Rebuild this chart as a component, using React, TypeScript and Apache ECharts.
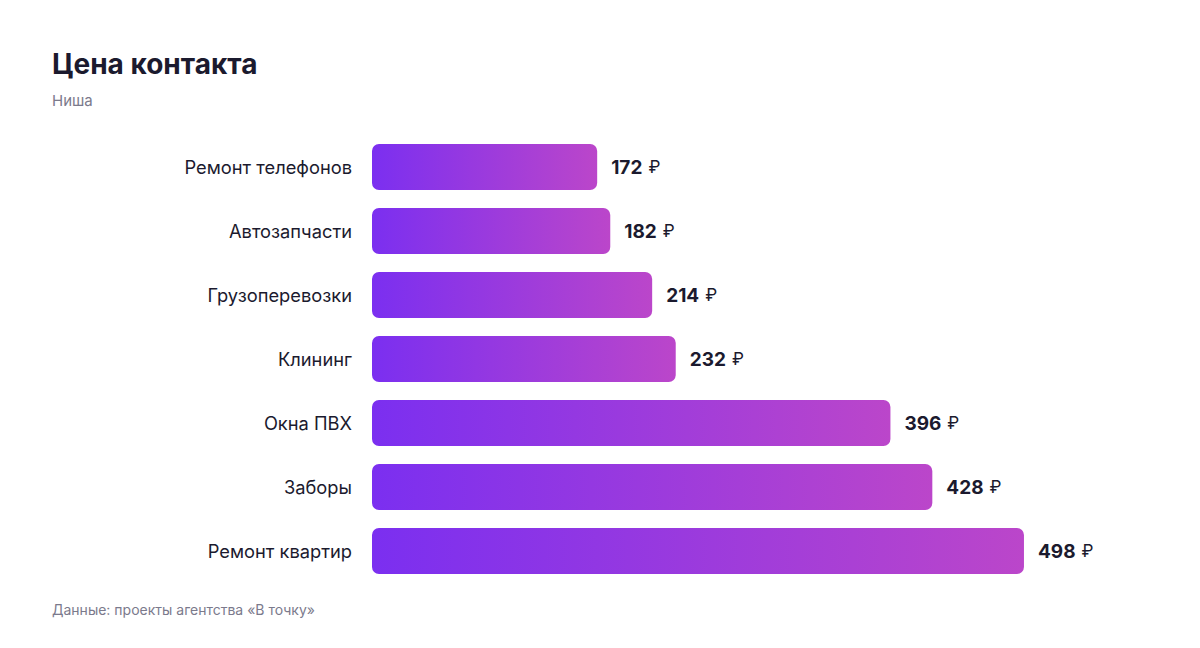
import { useEffect, useRef } from "react";
import * as echarts from "echarts";

const niches = [
  "Ремонт телефонов",
  "Автозапчасти",
  "Грузоперевозки",
  "Клининг",
  "Окна ПВХ",
  "Заборы",
  "Ремонт квартир",
];
const prices = [172, 182, 214, 232, 396, 428, 498];

const FONT = "Inter, 'Liberation Sans', Arial, sans-serif";

export default function App() {
  const chartRef = useRef<HTMLDivElement>(null);

  useEffect(() => {
    if (!chartRef.current) return;
    const chart = echarts.init(chartRef.current, null, { renderer: "svg" });

    const option: echarts.EChartsOption = {
      animation: false,
      backgroundColor: "#ffffff",
      textStyle: { fontFamily: FONT },
      title: {
        text: "Цена контакта",
        subtext: "Ниша",
        left: 52,
        top: 50,
        padding: 0,
        itemGap: 15,
        textStyle: { fontSize: 28, fontWeight: "bold", color: "#1b1a2e", fontFamily: FONT },
        subtextStyle: { fontSize: 15, color: "#7b7a8c", fontFamily: FONT },
      },
      graphic: [
        {
          type: "text",
          left: 52,
          top: 602,
          style: {
            text: "Данные: проекты агентства «В точку»",
            fontSize: 14,
            fill: "#7b7a8c",
            fontFamily: FONT,
          },
        },
      ],
      grid: { left: 372, top: 135, width: 785.5, height: 448 },
      xAxis: {
        type: "value",
        min: 0,
        max: 600,
        show: false,
      },
      yAxis: {
        type: "category",
        data: niches,
        inverse: true,
        axisLine: { show: false },
        axisTick: { show: false },
        splitLine: { show: false },
        axisLabel: { margin: 20, fontSize: 18.3, color: "#1b1a2e", fontFamily: FONT },
      },
      series: [
        {
          type: "bar",
          data: prices,
          barWidth: 46,
          itemStyle: {
            borderRadius: 7,
            color: new echarts.graphic.LinearGradient(0, 0, 1, 0, [
              { offset: 0, color: "#7b2ff0" },
              { offset: 1, color: "#bb46ca" },
            ]),
          },
          label: {
            show: true,
            position: "right",
            distance: 14,
            formatter: (p: any) => `{v|${p.value}}{r|₽}`,
            rich: {
              v: { fontSize: 19, fontWeight: "bold", color: "#1b1a2e", fontFamily: FONT },
              r: { fontSize: 17, color: "#1b1a2e", fontFamily: FONT, padding: [0, 0, 0, 6] },
            },
          },
        },
      ],
    };

    chart.setOption(option);
    return () => chart.dispose();
  }, []);

  return (
    <div
      ref={chartRef}
      style={{ position: "fixed", left: 0, top: 0, width: "1200px", height: "648px" }}
    />
  );
}
